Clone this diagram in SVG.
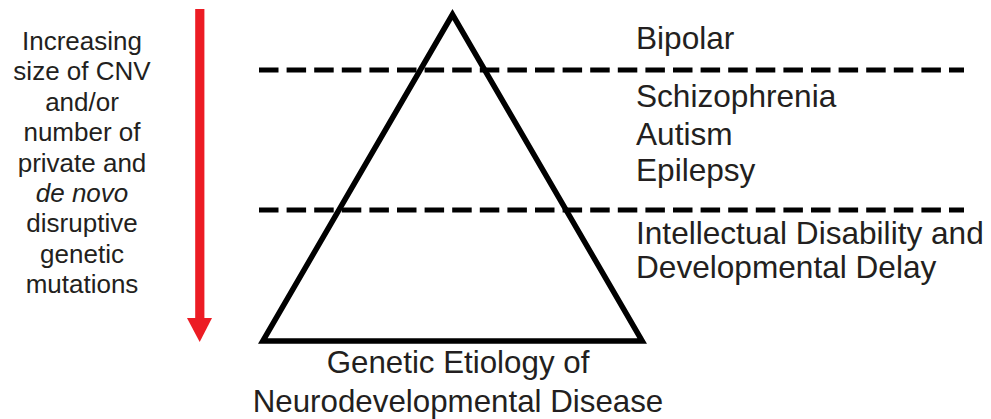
<svg xmlns="http://www.w3.org/2000/svg" width="991" height="419" viewBox="0 0 991 419">
<style>
.t{font-family:"Liberation Sans",Arial,sans-serif;fill:#231f20}
.r{font-size:31.6px}
.l{font-size:26px;text-anchor:middle}
.b{font-size:31.3px;text-anchor:middle}
.dash{stroke:#000;stroke-width:5;stroke-dasharray:19.5 8.1;fill:none}
</style>
<rect width="991" height="419" fill="#fff"/>
<g id="arrow">
<rect x="195.2" y="9" width="9.2" height="312" fill="#ec1c24"/>
<polygon points="187,318 212,318 199.7,342" fill="#ec1c24"/>
</g>
<g id="left-label">
<text class="t l" x="82" y="50">Increasing</text>
<text class="t l" x="82" y="80.4">size of CNV</text>
<text class="t l" x="82" y="110.8">and/or</text>
<text class="t l" x="82" y="141.2">number of</text>
<text class="t l" x="82" y="171.6">private and</text>
<text class="t l" x="82" y="202" font-style="italic">de novo</text>
<text class="t l" x="82" y="232.4">disruptive</text>
<text class="t l" x="82" y="262.8">genetic</text>
<text class="t l" x="82" y="293.2">mutations</text>
</g>
<g id="dividers">
<line class="dash" x1="259" y1="70" x2="964" y2="70"/>
<line class="dash" x1="259" y1="210" x2="964" y2="210"/>
</g>
<g id="pyramid">
<polygon points="452.5,14.5 262.8,341 642.2,341" fill="none" stroke="#000" stroke-width="5.5" stroke-linejoin="miter"/>
</g>
<g id="tier-bipolar">
<text class="t r" x="636" y="49">Bipolar</text>
</g>
<g id="tier-middle">
<text class="t r" x="636" y="107.3">Schizophrenia</text>
<text class="t r" x="636" y="144.5">Autism</text>
<text class="t r" x="636" y="180.7">Epilepsy</text>
</g>
<g id="tier-bottom">
<text class="t r" x="636" y="243.5">Intellectual Disability and</text>
<text class="t r" x="636" y="278">Developmental Delay</text>
</g>
<g id="pyramid-label">
<text class="t b" x="458" y="372.7">Genetic Etiology of</text>
<text class="t b" x="458" y="411.7">Neurodevelopmental Disease</text>
</g>
</svg>
